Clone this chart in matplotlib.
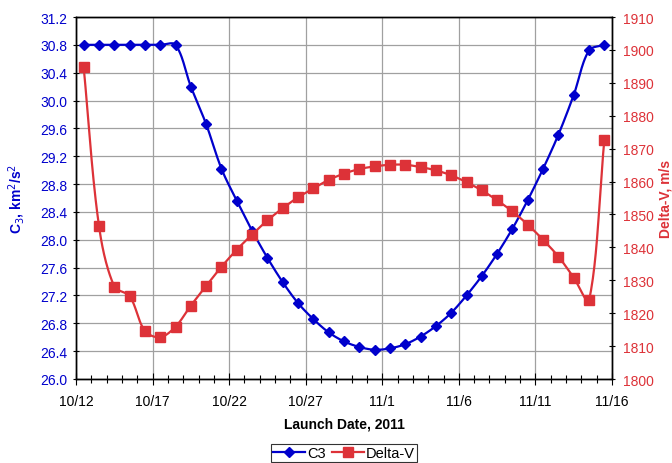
import numpy as np
import matplotlib
matplotlib.use("Agg")
import matplotlib.pyplot as plt
from matplotlib.lines import Line2D

plt.rcParams['font.family'] = ['Liberation Sans', 'DejaVu Sans']

# Launch dates: 10/12 .. 11/15, 2011 (one point per day)
dates = [f"10/{d}" for d in range(12, 32)] + [f"11/{d}" for d in range(1, 16)]

c3 = [30.80, 30.80, 30.80, 30.80, 30.80, 30.80, 30.80, 30.20, 29.66, 29.02,
      28.56, 28.13, 27.74, 27.39, 27.09, 26.86, 26.67, 26.54, 26.46, 26.42,
      26.44, 26.50, 26.61, 26.76, 26.95, 27.20, 27.48, 27.80, 28.16, 28.57,
      29.02, 29.51, 30.08, 30.72, 30.80]

delta_v = [1894.8, 1846.5, 1828.1, 1825.2, 1814.6, 1812.7, 1815.9, 1822.3,
           1828.3, 1834.1, 1839.3, 1843.9, 1848.2, 1851.9, 1855.2, 1857.9,
           1860.5, 1862.4, 1863.8, 1864.6, 1865.1, 1865.1, 1864.4, 1863.4,
           1861.9, 1859.8, 1857.3, 1854.3, 1850.9, 1846.9, 1842.3, 1837.2,
           1830.8, 1823.9, 1872.6]

tick_labels = ["10/12", "10/17", "10/22", "10/27", "11/1", "11/6", "11/11", "11/16"]

BLUE = "#0000CC"
RED = "#DD3238"

# axes box in figure pixels
AX_L, AX_R, AX_T, AX_B = 76, 612, 18, 380
C3_LIM = (26.0, 31.2)
DV_LIM = (1800, 1910)


def smooth(x, y, xscale, yscale, n=24):
    """Bezier smoothing with control arms weighted by neighbouring chord lengths."""
    P = np.column_stack([np.asarray(x, float) * xscale,
                         np.asarray(y, float) * yscale])
    m = len(P)
    cin = P.copy()
    cout = P.copy()
    for i in range(m):
        a = P[max(i - 1, 0)]
        b = P[min(i + 1, m - 1)]
        d = b - a
        l_in = np.linalg.norm(P[i] - a)
        l_out = np.linalg.norm(b - P[i])
        tot = l_in + l_out
        if tot == 0:
            continue
        cin[i] = P[i] - d * (l_in / tot) / 3.0
        cout[i] = P[i] + d * (l_out / tot) / 3.0
    t = np.linspace(0, 1, n, endpoint=False)[:, None]
    pts = []
    for i in range(m - 1):
        p0, p1, p2, p3 = P[i], cout[i], cin[i + 1], P[i + 1]
        seg = ((1 - t) ** 3) * p0 + 3 * ((1 - t) ** 2) * t * p1 \
            + 3 * (1 - t) * t ** 2 * p2 + t ** 3 * p3
        pts.append(seg)
    pts.append(P[-1:])
    pts = np.vstack(pts)
    return pts[:, 0] / xscale, pts[:, 1] / yscale


x = np.arange(len(dates)) + 0.5
px_day = (AX_R - AX_L) / len(dates)
px_c3 = (AX_B - AX_T) / (C3_LIM[1] - C3_LIM[0])
px_dv = (AX_B - AX_T) / (DV_LIM[1] - DV_LIM[0])

fig = plt.figure(figsize=(6.72, 4.64), dpi=100)
ax = fig.add_axes([AX_L / 672, 1 - AX_B / 464, (AX_R - AX_L) / 672, (AX_B - AX_T) / 464])
ax2 = ax.twinx()

ax.set_xlim(0, len(dates))
ax.set_ylim(*C3_LIM)
ax2.set_ylim(*DV_LIM)

yt = np.arange(26.0, 31.21, 0.4)
ax.set_yticks(yt)
ax.set_yticklabels([f"{v:.1f}" for v in yt])
ax2.set_yticks(np.arange(1800, 1911, 10))
ax.set_xticks(np.arange(0, len(dates) + 1, 5))
ax.set_xticklabels(tick_labels)
ax.set_xticks(np.arange(0, len(dates) + 1, 1), minor=True)

ax.grid(True, which='major', color='#A0A0A0', linewidth=0.9)
ax.set_axisbelow(True)

ax.tick_params(axis='y', colors='black', labelcolor=BLUE, labelsize=10,
               direction='inout', length=4, width=0.8, pad=4)
ax.tick_params(axis='x', which='major', direction='inout', length=8, width=0.8,
               labelsize=10, pad=7)
ax.tick_params(axis='x', which='minor', direction='inout', length=6, width=0.8)
ax2.tick_params(axis='y', colors='black', labelcolor=RED, labelsize=10,
                direction='inout', length=4, width=0.8, pad=6)

for a in (ax, ax2):
    for s in a.spines.values():
        s.set_color('black')
        s.set_linewidth(1.0)

sx, sy = smooth(x, c3, px_day, px_c3)
ax.plot(sx, sy, color=BLUE, lw=1.6, zorder=3)
ax.plot(x, c3, ls='none', marker='D', ms=5.6, color=BLUE, zorder=4)

sx2, sy2 = smooth(x, delta_v, px_day, px_dv)
ax2.plot(sx2, sy2, color=RED, lw=1.6, zorder=3)
ax2.plot(x, delta_v, ls='none', marker='s', ms=7.0, color=RED, zorder=4)

ax.set_ylabel(r"C$_3$, km$^2$/s$^2$", color=BLUE, fontsize=10, fontweight='bold')
ax.yaxis.set_label_coords(-(AX_L - 27) / (AX_R - AX_L), 0.5)
ax2.set_ylabel("Delta-V, m/s", color=RED, fontsize=10, fontweight='bold')
ax2.yaxis.set_label_coords((658 - AX_L) / (AX_R - AX_L), 0.5)
ax.set_xlabel("Launch Date, 2011", fontsize=10, fontweight='bold', labelpad=6)

handles = [Line2D([], [], color=BLUE, lw=1.6, marker='D', ms=5.6),
           Line2D([], [], color=RED, lw=1.6, marker='s', ms=7.0)]
leg = fig.legend(handles, ["C3", "Delta-V"], loc='upper center',
                 bbox_to_anchor=(344 / 672, 1 - 445 / 464), ncol=2,
                 frameon=True, fancybox=False, edgecolor='black',
                 fontsize=10.5, handlelength=2.2, handletextpad=0.15,
                 columnspacing=0.4, borderpad=0.15, borderaxespad=0)
leg.get_frame().set_linewidth(0.8)

fig.savefig("out.png", dpi=100)
